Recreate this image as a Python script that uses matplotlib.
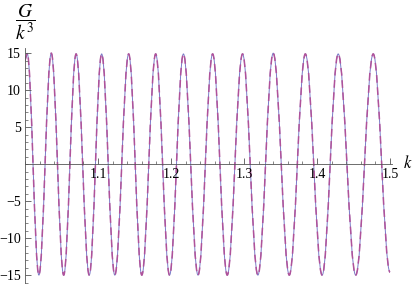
import matplotlib
matplotlib.use("Agg")
import matplotlib.pyplot as plt
from matplotlib.path import Path
from matplotlib.patches import PathPatch
from matplotlib.ticker import MultipleLocator, FixedLocator

plt.rcParams["font.family"] = ["Liberation Serif", "DejaVu Serif"]
plt.rcParams["mathtext.fontset"] = "stix"

# curve start, then alternating peaks / troughs
k_start, g_start = 1.000, 14.0
k_ext = [1.003, 1.019, 1.036, 1.053, 1.070, 1.088, 1.105, 1.123, 1.142,
         1.160, 1.179, 1.198, 1.217, 1.237, 1.257, 1.277, 1.298, 1.319,
         1.340, 1.362, 1.384, 1.407, 1.429, 1.453, 1.477, 1.500]
g_ext = [15.0, -15.0, 15.0, -15.0, 14.9, -15.0, 14.9, -15.0, 14.9,
         -15.0, 14.9, -15.0, 14.9, -15.0, 14.9, -15.0, 14.9, -15.0,
         15.0, -15.0, 14.9, -15.0, 14.9, -15.0, 14.9, -14.6]
# second (dashed) series lies on top of the first
k_dash, g_dash = k_ext, g_ext

x_major = [1.1, 1.2, 1.3, 1.4, 1.5]
y_major = [-15, -10, -5, 5, 10, 15]

BZ = 0.3634   # bezier handle so each half wave looks like a cosine


def wave_path(k0, g0, ks, gs):
    verts = [(k0, g0), (ks[0], gs[0])]
    codes = [Path.MOVETO, Path.LINETO]
    for i in range(1, len(ks)):
        dk = ks[i] - ks[i - 1]
        verts += [(ks[i - 1] + BZ * dk, gs[i - 1]), (ks[i] - BZ * dk, gs[i]), (ks[i], gs[i])]
        codes += [Path.CURVE4] * 3
    return Path(verts, codes)


fig = plt.figure(figsize=(4.15, 2.84), dpi=100)
ax = fig.add_axes([25 / 415, 0.0, 367 / 415, 236 / 284])
ax.set_xlim(1.0, 1.5027)
ax.set_ylim(-16.2, 15.7)

ax.add_patch(PathPatch(wave_path(k_start, g_start, k_ext, g_ext), fill=False,
                       edgecolor="#7b7bc8", lw=0.7))
ax.add_patch(PathPatch(wave_path(k_start, g_start, k_dash, g_dash), fill=False,
                       edgecolor="#b0529a", lw=1.1, linestyle=(0, (5, 3))))

for s in ("top", "right"):
    ax.spines[s].set_visible(False)
ax.spines["bottom"].set_position(("data", 0))
ax.spines["left"].set_position(("data", 1.0))
for s in ("bottom", "left"):
    ax.spines[s].set_linewidth(0.6)
    ax.spines[s].set_color("#555555")

ax.xaxis.set_major_locator(FixedLocator(x_major))
ax.xaxis.set_minor_locator(MultipleLocator(0.02))
ax.yaxis.set_major_locator(FixedLocator(y_major))
ax.yaxis.set_minor_locator(MultipleLocator(1))
ax.tick_params(axis="x", which="both", direction="in", labelsize=10, pad=3, color="#555555")
ax.tick_params(axis="y", which="both", direction="in", labelsize=10, pad=3, color="#555555")
ax.tick_params(which="major", length=4, width=0.6)
ax.tick_params(which="minor", length=2, width=0.5)
ax.patch.set_alpha(0)

fig.text(408 / 415, 1 - 164 / 284, "$k$", fontsize=12, ha="center", va="center")
fig.text(25 / 415, 1 - 22 / 284, r"$\dfrac{G}{k^3}$", fontsize=14, ha="center", va="center")

fig.savefig("out.png", dpi=100)
